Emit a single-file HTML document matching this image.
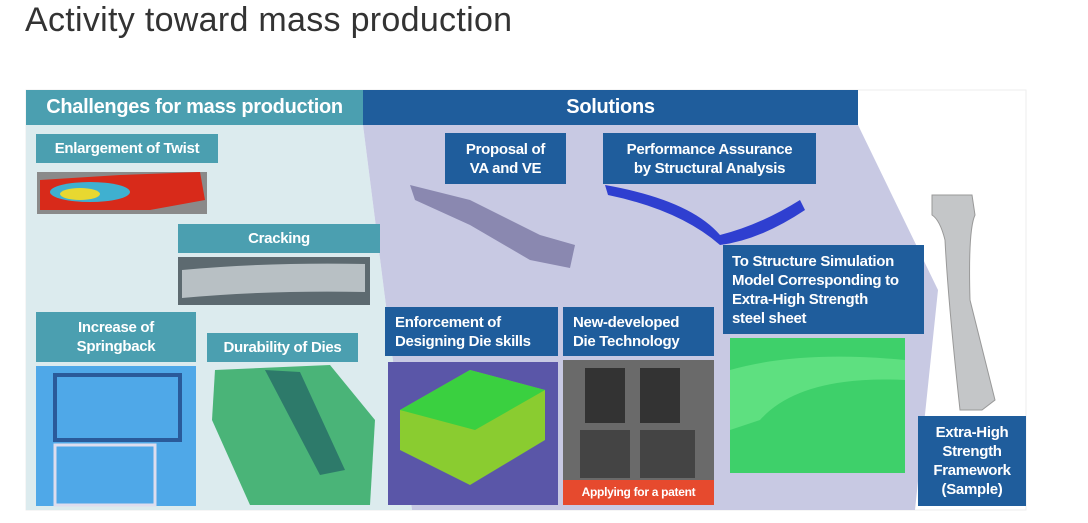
<!DOCTYPE html>
<html><head><meta charset="utf-8"><style>
body{margin:0;width:1088px;height:523px;background:#fff;position:relative;overflow:hidden;font-family:"Liberation Sans",sans-serif}
.a{position:absolute}
.lb{position:absolute;color:#fff;font-weight:bold;font-size:15px;line-height:19px;display:flex;align-items:center;justify-content:center;text-align:center;letter-spacing:-0.3px}
.t{background:#4b9fb0}.b{background:#1f5d9c}
</style></head><body>
<div class="a" style="left:25px;top:1px;font-size:34px;color:#333;letter-spacing:0.3px">Activity toward mass production</div>
<svg class="a" style="left:0;top:0" width="1088" height="523">
<rect x="26" y="90" width="1000" height="420" fill="#fff" stroke="#eee"/>
<polygon points="26,125 363,125 412,510 26,510" fill="#dcebee"/>
<polygon points="363,125 858,125 938,290 915,510 412,510" fill="#c8c9e3"/>
<rect x="26" y="90" width="337" height="35" fill="#4b9fb0"/>
<rect x="363" y="90" width="495" height="35" fill="#1f5d9c"/>
<rect x="37" y="172" width="170" height="42" fill="#8a8a8a"/>
<polygon points="40,180 120,175 200,172 205,200 150,210 40,210" fill="#d82a1a"/>
<ellipse cx="90" cy="192" rx="40" ry="10" fill="#3fb0d0"/>
<ellipse cx="80" cy="194" rx="20" ry="6" fill="#e8d830"/>
<rect x="178" y="257" width="192" height="48" fill="#5d6a70"/>
<path d="M182 270 Q270 262 365 264 L365 292 Q270 290 182 298Z" fill="#b8c0c4"/>
<polygon points="410,185 470,200 540,235 575,245 570,268 530,260 470,225 415,200" fill="#8a88b0"/>
<path d="M605 185 Q690 200 720 235 Q760 225 800 200 L805 210 Q760 240 720 245 Q680 210 608 195Z" fill="#2f3fd0"/>
<rect x="36" y="366" width="160" height="140" fill="#4fa8e8"/>
<rect x="55" y="375" width="125" height="65" fill="none" stroke="#2a5a9a" stroke-width="4"/>
<rect x="55" y="445" width="100" height="60" fill="none" stroke="#dde" stroke-width="3"/>
<polygon points="215,370 330,365 375,420 370,505 250,505 212,420" fill="#4ab478"/>
<polygon points="265,370 300,372 345,470 320,475" fill="#2d7a6a"/>
<rect x="388" y="362" width="170" height="143" fill="#5a56a8"/>
<polygon points="400,410 470,370 545,390 545,440 470,485 400,450" fill="#8acc30"/>
<polygon points="400,410 470,370 545,390 475,430" fill="#3ad040"/>
<rect x="563" y="360" width="151" height="120" fill="#6a6a6a"/>
<rect x="585" y="368" width="40" height="55" fill="#333"/><rect x="640" y="368" width="40" height="55" fill="#333"/>
<rect x="580" y="430" width="50" height="48" fill="#444"/><rect x="640" y="430" width="55" height="48" fill="#444"/>
<rect x="563" y="480" width="151" height="25" fill="#e64a2e"/>
<rect x="730" y="338" width="175" height="135" fill="#3ed06a"/>
<path d="M730 370 Q800 350 905 360 L905 380 Q800 375 760 420 L730 430Z" fill="#5ee080"/>
<path d="M932 195 L972 195 L975 215 Q968 230 970 300 Q985 360 995 400 L982 410 L960 410 Q948 300 945 240 Q940 220 932 215Z" fill="#c4c6c8" stroke="#999"/>
</svg>
<div class="lb" style="left:26px;top:90px;width:337px;height:35px;font-size:20px">Challenges for mass production</div>
<div class="lb" style="left:363px;top:90px;width:495px;height:35px;font-size:20px">Solutions</div>
<div class="lb t" style="left:36px;top:134px;width:182px;height:29px">Enlargement of Twist</div>
<div class="lb t" style="left:178px;top:224px;width:202px;height:29px">Cracking</div>
<div class="lb t" style="left:36px;top:312px;width:160px;height:50px">Increase of<br>Springback</div>
<div class="lb t" style="left:207px;top:333px;width:151px;height:29px">Durability of Dies</div>
<div class="lb b" style="left:445px;top:133px;width:121px;height:51px">Proposal of<br>VA and VE</div>
<div class="lb b" style="left:603px;top:133px;width:213px;height:51px">Performance Assurance<br>by Structural Analysis</div>
<div class="lb b" style="left:723px;top:245px;width:201px;height:89px;justify-content:flex-start;text-align:left;padding-left:9px;box-sizing:border-box">To Structure Simulation<br>Model Corresponding to<br>Extra-High Strength<br>steel sheet</div>
<div class="lb b" style="left:385px;top:307px;width:173px;height:49px;justify-content:flex-start;text-align:left;padding-left:10px;box-sizing:border-box">Enforcement of<br>Designing Die skills</div>
<div class="lb b" style="left:563px;top:307px;width:151px;height:49px;justify-content:flex-start;text-align:left;padding-left:10px;box-sizing:border-box">New-developed<br>Die Technology</div>
<div class="lb" style="left:563px;top:480px;width:151px;height:25px;font-size:12px">Applying for a patent</div>
<div class="lb b" style="left:918px;top:416px;width:108px;height:90px">Extra-High<br>Strength<br>Framework<br>(Sample)</div>
</body></html>
